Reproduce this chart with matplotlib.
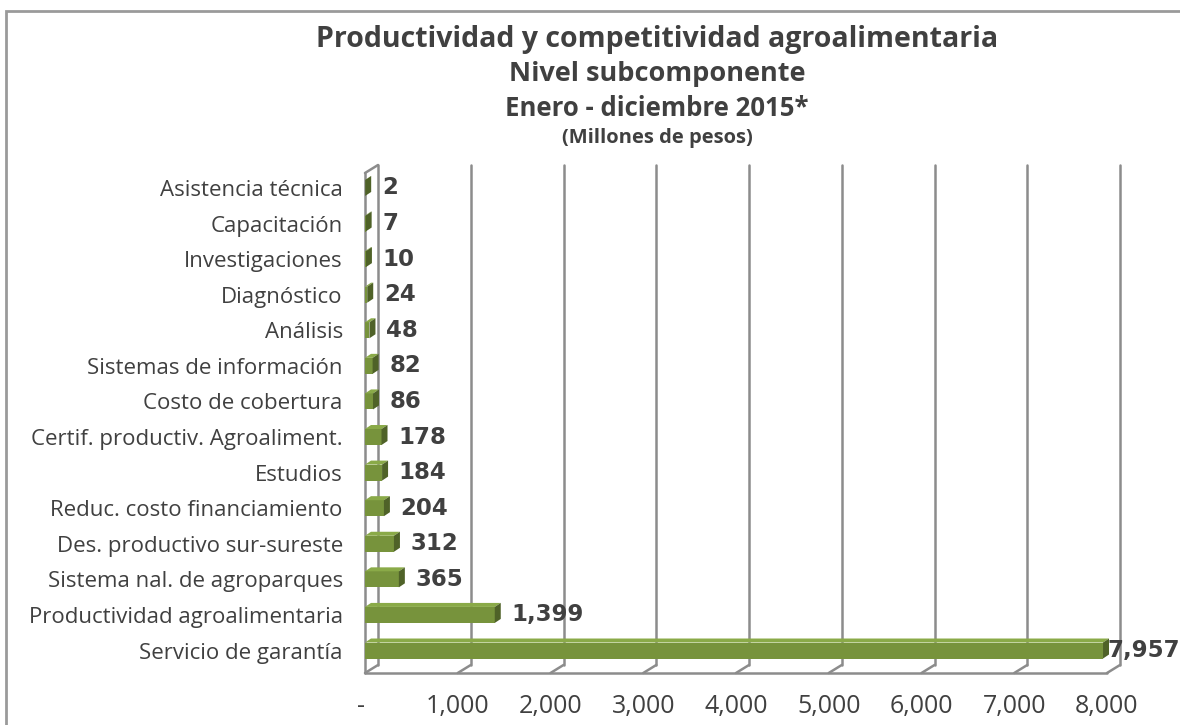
import matplotlib
matplotlib.use("Agg")
import matplotlib.pyplot as plt
from matplotlib.patches import Polygon, Rectangle

categorias = [
    "Servicio de garantía",
    "Productividad agroalimentaria",
    "Sistema nal. de agroparques",
    "Des. productivo sur-sureste",
    "Reduc. costo financiamiento",
    "Estudios",
    "Certif. productiv. Agroaliment.",
    "Costo de cobertura",
    "Sistemas de información",
    "Análisis",
    "Diagnóstico",
    "Investigaciones",
    "Capacitación",
    "Asistencia técnica",
]
valores = [7957, 1399, 365, 312, 204, 184, 178, 86, 82, 48, 24, 10, 7, 2]
ticks_x = [0, 1000, 2000, 3000, 4000, 5000, 6000, 7000, 8000]
etiquetas_x = ["-", "1,000", "2,000", "3,000", "4,000", "5,000", "6,000", "7,000", "8,000"]
titulo = [
    "Productividad y competitividad agroalimentaria",
    "Nivel subcomponente",
    "Enero - diciembre 2015*",
    "(Millones de pesos)",
]

GRIS_TXT = "#404040"
GRIS_GRID = "#8c8c8c"
VERDE = "#77933c"
VERDE_TOP = "#8aaa48"
VERDE_LADO = "#4f6228"

W, H = 1180, 725
fig = plt.figure(figsize=(W / 100, H / 100), dpi=100)

# front plane of the 3d plot area, in pixels
x0, x1, ytop, ybot = 365, 1107, 173, 673
ax = fig.add_axes([x0 / W, 1 - ybot / H, (x1 - x0) / W, (ybot - ytop) / H])
ylo, yhi = -0.632, 13.42
ax.set_xlim(0, 8000)
ax.set_ylim(ylo, yhi)
ax.patch.set_visible(False)
for s in ax.spines.values():
    s.set_visible(False)

# pixel -> data
sx = 8000 / (x1 - x0)
sy = (yhi - ylo) / (ybot - ytop)
wdx, wdy = 13 * sx, 8 * sy      # wall depth
bdx, bdy = 6 * sx, 4 * sy       # bar depth

kw = dict(color=GRIS_GRID, lw=1.8, clip_on=False, zorder=1, solid_capstyle="round")
for t in ticks_x:
    ax.plot([t + wdx, t + wdx], [ylo + wdy, yhi + wdy], **kw)
    ax.plot([t, t + wdx], [ylo, ylo + wdy], **kw)
ax.plot([0, 0], [ylo, yhi], **kw)
ax.plot([0, wdx], [yhi, yhi + wdy], **kw)
ax.plot([0, 8000], [ylo, ylo], **kw)

# bars with fake 3d faces
bh = 0.45
pos = list(range(len(valores)))
vmax = max(valores)
ax.barh(pos, valores, height=bh, color=VERDE, zorder=3, clip_on=False)
for y, v in zip(pos, valores):
    top = y + bh / 2
    bot = y - bh / 2
    ax.add_patch(Polygon([(0, top), (v, top), (v + bdx, top + bdy), (bdx, top + bdy)],
                         closed=True, fc=VERDE_TOP, ec="none", zorder=3, clip_on=False))
    ax.add_patch(Polygon([(v, bot), (v + bdx, bot + bdy), (v + bdx, top + bdy), (v, top)],
                         closed=True, fc=VERDE_LADO, ec="none", zorder=3, clip_on=False))
    off = 3 if v == vmax else 12
    ax.annotate(f"{v:,}", (v, y), xytext=(off, 0), textcoords="offset points",
                ha="left", va="center", fontsize=16.5, fontweight="bold",
                family="DejaVu Sans", color=GRIS_TXT, zorder=4)

ax.set_yticks(pos)
ax.set_yticklabels(categorias, fontsize=16, family="Open Sans", color=GRIS_TXT)
ax.set_xticks(ticks_x)
ax.set_xticklabels(etiquetas_x, fontsize=18, family="Open Sans", color=GRIS_TXT)
ax.get_xticklabels()[0].set_ha("right")
ax.tick_params(axis="y", length=0, pad=16)
ax.tick_params(axis="x", length=0, pad=15)

cx = 657 / W
fig.text(cx, 1 - 47 / H, titulo[0], ha="center", va="baseline", fontsize=20.5,
         fontweight="bold", family="Open Sans", color=GRIS_TXT)
fig.text(cx, 1 - 81 / H, titulo[1], ha="center", va="baseline", fontsize=19.5,
         fontweight="bold", family="Open Sans", color=GRIS_TXT)
fig.text(cx, 1 - 116 / H, titulo[2], ha="center", va="baseline", fontsize=18.5,
         fontweight="bold", family="Open Sans", color=GRIS_TXT)
fig.text(cx, 1 - 143 / H, titulo[3], ha="center", va="baseline", fontsize=14.5,
         fontweight="bold", family="Open Sans", color=GRIS_TXT)

# outer frame (cut at right and bottom like the source)
fig.add_artist(Rectangle((6 / W, -0.1), 2, 1 - 11 / H + 0.1, transform=fig.transFigure,
                         fill=False, ec="#9a9a9a", lw=2))

fig.savefig("out.png", dpi=100)
